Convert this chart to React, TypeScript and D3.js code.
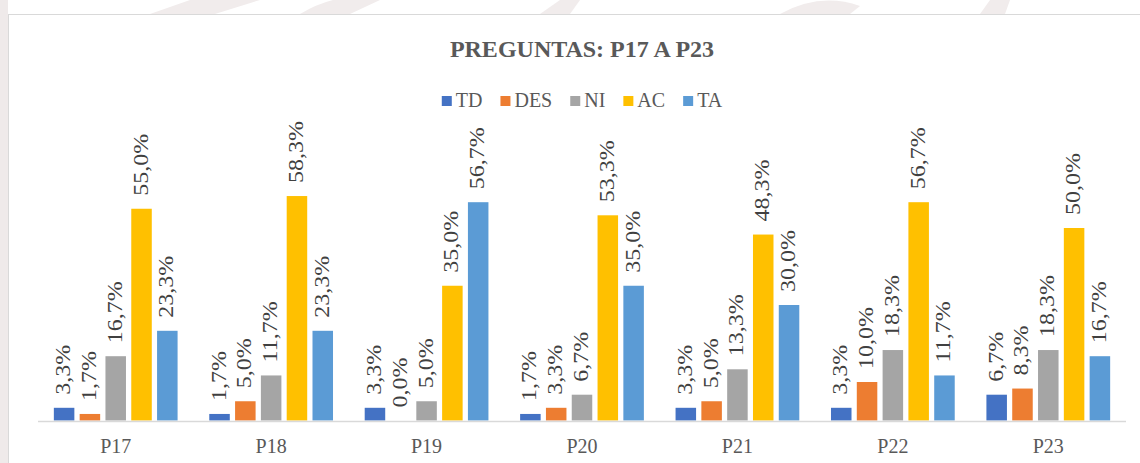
import React, {useEffect, useRef} from "react"
import * as d3 from "d3"

const categories = ["P17", "P18", "P19", "P20", "P21", "P22", "P23"]
const seriesNames = ["TD", "DES", "NI", "AC", "TA"]
const seriesColors = ["#4472C4", "#ED7D31", "#A5A5A5", "#FFC000", "#5B9BD5"]
const TD = [3.3, 1.7, 3.3, 1.7, 3.3, 3.3, 6.7]
const DES = [1.7, 5.0, 0.0, 3.3, 5.0, 10.0, 8.3]
const NI = [16.7, 11.7, 5.0, 6.7, 13.3, 18.3, 18.3]
const AC = [55.0, 58.3, 35.0, 53.3, 48.3, 56.7, 50.0]
const TA = [23.3, 23.3, 56.7, 35.0, 30.0, 11.7, 16.7]
const seriesValues = [TD, DES, NI, AC, TA]
const title = "PREGUNTAS: P17 A P23"

const W = 1140
const H = 463
const FONT = "Liberation Serif, DejaVu Serif, serif"

const App = () => {
    const ref = useRef<SVGSVGElement>(null)

    useEffect(() => {
        const svg = d3.select(ref.current)
        svg.selectAll("*").remove()

        const plot = {left: 38, right: 1126, top: 151, bottom: 420.5}

        // faint watermark behind the chart box
        svg.append("rect").attr("x", 0).attr("y", 0).attr("width", 8).attr("height", H).attr("fill", "#efeaea")
        const wm = svg.append("g").attr("fill", "#f1ecec")
        wm.append("path").attr("d", "M150,14 L190,0 L260,0 L215,14 Z")
        wm.append("path").attr("d", "M300,14 Q340,-10 380,0 L350,14 Z")
        wm.append("path").attr("d", "M540,14 L560,0 L580,0 L570,14 Z")
        wm.append("path").attr("d", "M780,14 Q820,-8 860,6 L850,14 Z")
        wm.append("path").attr("d", "M980,14 L990,0 L1010,0 L1005,14 Z")

        // chart box
        svg.append("rect")
            .attr("x", 8.5).attr("y", 14.5)
            .attr("width", W + 10).attr("height", H)
            .attr("fill", "white").attr("stroke", "#d9d9d9").attr("stroke-width", 1)

        const x0 = d3.scaleBand()
            .domain(categories)
            .range([plot.left, plot.right])
            .paddingInner(0)
            .paddingOuter(0)

        const x1 = d3.scaleBand()
            .domain(seriesNames)
            .range([0, x0.bandwidth()])
            .paddingInner(0.205)
            .paddingOuter(0.614)

        const y = d3.scaleLinear()
            .domain([0, 70])
            .range([plot.bottom, plot.top])

        const fmt = (v: number) => v.toFixed(1).replace(".", ",") + "%"

        const groups = svg.append("g").selectAll("g")
            .data(categories)
            .join("g")
            .attr("transform", d => `translate(${x0(d)},0)`)

        seriesNames.forEach((s, si) => {
            groups.append("rect")
                .attr("x", x1(s)!)
                .attr("y", (_d, i) => y(seriesValues[si][i]))
                .attr("width", x1.bandwidth())
                .attr("height", (_d, i) => y(0) - y(seriesValues[si][i]))
                .attr("fill", seriesColors[si])

            // labels in the source look stretched along their length
            groups.append("text")
                .attr("transform", (_d, i) =>
                    `translate(${x1(s)! + x1.bandwidth() / 2 + 6},${y(seriesValues[si][i]) - 13}) rotate(-90) scale(1.2,1)`)
                .attr("font-family", FONT)
                .attr("font-size", 20)
                .attr("fill", "#404040")
                .text((_d, i) => fmt(seriesValues[si][i]))
        })

        // axis line
        svg.append("line")
            .attr("x1", plot.left).attr("x2", plot.right)
            .attr("y1", plot.bottom + 1).attr("y2", plot.bottom + 1)
            .attr("stroke", "#d9d9d9").attr("stroke-width", 1.5)

        svg.append("g").selectAll("text")
            .data(categories)
            .join("text")
            .attr("x", d => x0(d)! + x0.bandwidth() / 2)
            .attr("y", 453)
            .attr("text-anchor", "middle")
            .attr("font-family", FONT)
            .attr("font-size", 20)
            .attr("fill", "#595959")
            .text(d => d)

        svg.append("text")
            .attr("x", (plot.left + plot.right) / 2)
            .attr("y", 57)
            .attr("text-anchor", "middle")
            .attr("font-family", FONT)
            .attr("font-weight", "bold")
            .attr("font-size", 24)
            .attr("fill", "#595959")
            .text(title)

        // legend
        const legend = svg.append("g")
        const items = legend.selectAll("g")
            .data(seriesNames)
            .join("g")
        items.append("rect")
            .attr("width", 10).attr("height", 10)
            .attr("y", 96)
            .attr("fill", (_d, i) => seriesColors[i])
        items.append("text")
            .attr("x", 14)
            .attr("y", 107)
            .attr("font-family", FONT)
            .attr("font-size", 20)
            .attr("fill", "#595959")
            .text(d => d)
        let cursor = 0
        const gap = 18
        items.each(function () {
            const g = d3.select(this)
            g.attr("transform", `translate(${cursor},0)`)
            const tw = (g.select("text").node() as SVGTextElement).getComputedTextLength()
            cursor += 14 + tw + gap
        })
        const total = cursor - gap
        legend.attr("transform", `translate(${(plot.left + plot.right) / 2 - total / 2},0)`)
    }, [])

    return (
        <svg
            ref={ref}
            width={W}
            height={H}
            viewBox={`0 0 ${W} ${H}`}
            style={{position: "absolute", left: 0, top: 0, background: "white"}}
        />
    )
}

export default App
